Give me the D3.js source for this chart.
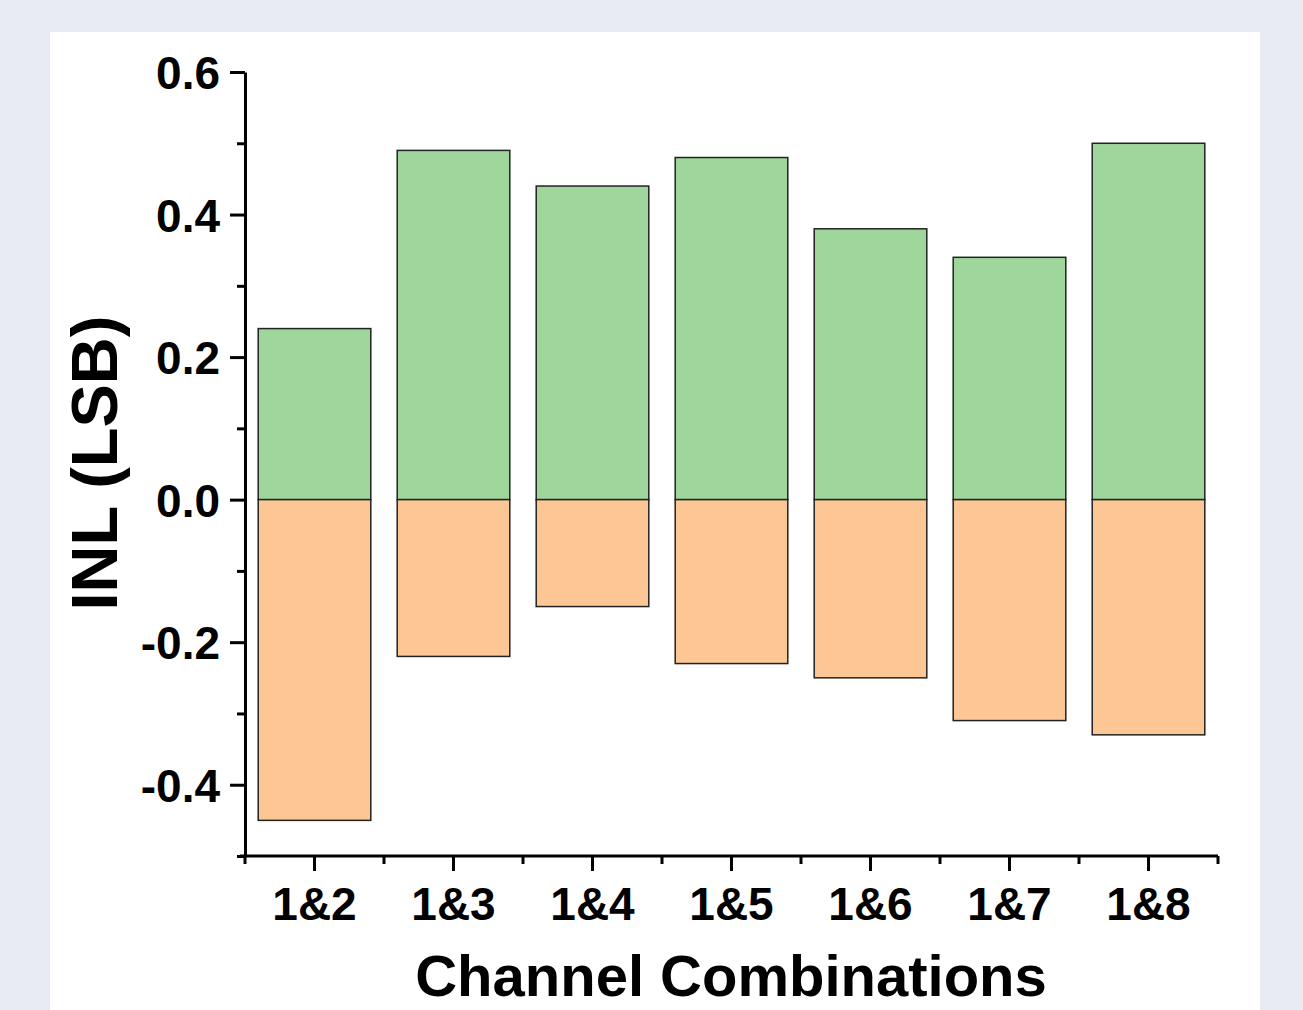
<!DOCTYPE html>
<html>
<head>
<meta charset="utf-8">
<script src="https://cdn.jsdelivr.net/npm/d3@7"></script>
<style>
  html, body { margin: 0; padding: 0; background: #e8ebf4; }
  svg { display: block; }
  text { font-family: "Liberation Sans", Arial, sans-serif; font-weight: bold; fill: #000; }
</style>
</head>
<body>
<svg></svg>
<script>
// values
let categories = ["1&2", "1&3", "1&4", "1&5", "1&6", "1&7", "1&8"]
let positiveValues = [0.24, 0.49, 0.44, 0.48, 0.38, 0.34, 0.50]
let negativeValues = [-0.45, -0.22, -0.15, -0.23, -0.25, -0.31, -0.33]
let yTicks = [-0.4, -0.2, 0.0, 0.2, 0.4, 0.6]
let yMinorTicks = [-0.5, -0.3, -0.1, 0.1, 0.3, 0.5]

let width = 1303
let height = 1010
let plotLeft = 245, plotRight = 1218, plotTop = 72, plotBottom = 856

let svg = d3.select("svg")
  .attr("width", width)
  .attr("height", height)

// white panel
svg.append("rect")
  .attr("x", 50).attr("y", 32)
  .attr("width", 1210).attr("height", height - 32)
  .attr("fill", "#fff")

let xScale = d3.scaleBand()
  .domain(categories)
  .range([plotLeft, plotRight])
  .paddingInner(0.19)
  .paddingOuter(0.095)

let yScale = d3.scaleLinear()
  .domain([-0.5, 0.6])
  .range([plotBottom, plotTop])

// bars
let drawBars = (values, color) => {
  svg.append("g")
    .selectAll("rect")
    .data(values)
    .enter()
    .append("rect")
    .attr("x", (d, i) => xScale(categories[i]))
    .attr("width", xScale.bandwidth())
    .attr("y", d => yScale(Math.max(0, d)))
    .attr("height", d => Math.abs(yScale(d) - yScale(0)))
    .attr("fill", color)
    .attr("stroke", "#222")
    .attr("stroke-width", 1.5)
}
drawBars(positiveValues, "#9ed69b")
drawBars(negativeValues, "#fcc795")

// y axis (plain hyphen for negatives, like the original)
let fmt = d3.format(".1f")
let yAxis = d3.axisLeft(yScale)
  .tickValues(yTicks)
  .tickFormat(d => fmt(d).replace("\u2212", "-"))
  .tickSize(15)
  .tickSizeOuter(0)
  .tickPadding(10)
let yG = svg.append("g")
  .attr("transform", "translate(" + plotLeft + ",0)")
  .call(yAxis)
yG.selectAll("text").style("font-size", "46px").attr("dy", "0.36em")
yG.selectAll("line, path").attr("stroke", "#000").attr("stroke-width", 3)

let yMinor = d3.axisLeft(yScale).tickValues(yMinorTicks).tickSize(8).tickFormat("").tickSizeOuter(0)
svg.append("g")
  .attr("transform", "translate(" + plotLeft + ",0)")
  .call(yMinor)
  .call(g => g.select(".domain").remove())
  .selectAll("line").attr("stroke", "#000").attr("stroke-width", 3)

// x axis
let xAxis = d3.axisBottom(xScale)
  .tickSize(15)
  .tickSizeOuter(0)
  .tickPadding(16)
let xG = svg.append("g")
  .attr("transform", "translate(0," + plotBottom + ")")
  .call(xAxis)
xG.select(".domain").attr("d", "M" + (plotLeft - 5) + ",0H" + plotRight)
xG.selectAll("text").style("font-size", "46px")
xG.selectAll("line, path").attr("stroke", "#000").attr("stroke-width", 3)

// minor x ticks at category boundaries
let step = xScale.step()
let boundaries = categories.map(c => xScale(c) + xScale.bandwidth() / 2 - step / 2)
boundaries.push(plotRight)
svg.append("g")
  .selectAll("line")
  .data(boundaries)
  .enter()
  .append("line")
  .attr("x1", d => d).attr("x2", d => d)
  .attr("y1", plotBottom).attr("y2", plotBottom + 8)
  .attr("stroke", "#000").attr("stroke-width", 3)

// axis titles
svg.append("text")
  .attr("x", 731)
  .attr("y", 996)
  .attr("text-anchor", "middle")
  .style("font-size", "58px")
  .text("Channel Combinations")

svg.append("text")
  .attr("transform", "translate(117,463) rotate(-90)")
  .attr("text-anchor", "middle")
  .style("font-size", "65px")
  .text("INL (LSB)")
</script>
</body>
</html>
